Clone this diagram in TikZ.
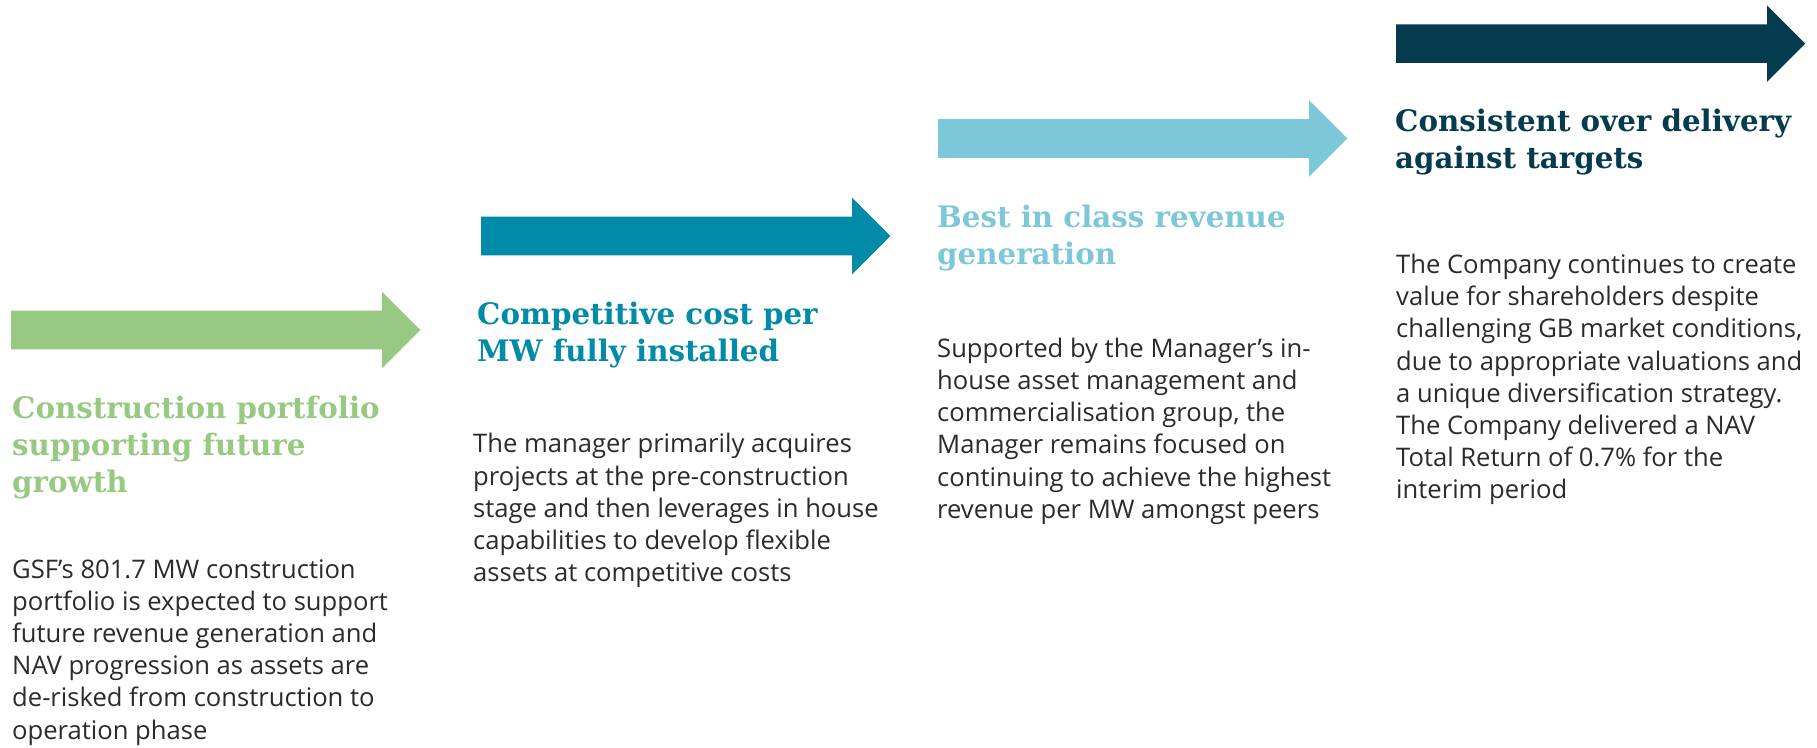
\documentclass[tikz,border=0pt]{standalone}
\usepackage{fontspec}
\setmainfont{Open Sans}
\newfontfamily\headfont[FakeStretch=0.99]{DejaVu Serif}
\usetikzlibrary{positioning}
\definecolor{gsfgreen}{HTML}{98C982}
\definecolor{gsfteal}{HTML}{008BA8}
\definecolor{gsfsky}{HTML}{7DC8D8}
\definecolor{gsfnavy}{HTML}{043B4E}
\definecolor{bodygrey}{HTML}{2B2B2B}
\tikzstyle{headbox} = [anchor=base west, inner sep=0pt, align=left, font=\headfont\bfseries\fontsize{29.6}{37}\selectfont]
\tikzstyle{textbox} = [anchor=base west, inner sep=0pt, align=left, text=bodygrey, font=\fontsize{25.6}{32.2}\selectfont]

\begin{document}
\begin{tikzpicture}[x=1pt, y=-1pt] % pixel grid, y running down; nodes sit on the baseline of their last line
    \useasboundingbox (0,0) rectangle (1817,747);

    % the four stage arrows
    \fill[gsfgreen] (11,310.7) -- ++(371,0) -- ++(0,-19) -- ++(38.3,38.3) -- ++(-38.3,38.3) -- ++(0,-19) -- ++(-371,0) -- cycle;
    \fill[gsfteal] (481,216.7) -- ++(371,0) -- ++(0,-19) -- ++(38.3,38.3) -- ++(-38.3,38.3) -- ++(0,-19) -- ++(-371,0) -- cycle;
    \fill[gsfsky] (938,119.2) -- ++(371,0) -- ++(0,-19) -- ++(38.3,38.3) -- ++(-38.3,38.3) -- ++(0,-19) -- ++(-371,0) -- cycle;
    \fill[gsfnavy] (1396,24.3) -- ++(371,0) -- ++(0,-19) -- ++(38.3,38.3) -- ++(-38.3,38.3) -- ++(0,-19) -- ++(-371,0) -- cycle;

    \node (head_build) [headbox, text=gsfgreen] at (12,492) {Construction portfolio\\supporting future\\growth};
    \node (text_build) [textbox] at (12,739) {GSF’s 801.7 MW construction\\portfolio is expected to support\\future revenue generation and\\NAV progression as assets are\\de-risked from construction to\\operation phase};

    \node (head_cost) [headbox, text=gsfteal] at (477,361) {Competitive cost per\\MW fully installed};
    \node (text_cost) [textbox] at (473,581.6) {The manager primarily acquires\\projects at the pre-construction\\stage and then leverages in house\\capabilities to develop flexible\\assets at competitive costs};

    \node (head_revenue) [headbox, text=gsfsky] at (937,264.5) {Best in class revenue\\generation};
    \node (text_revenue) [textbox] at (937,518.3) {Supported by the Manager’s in-\\house asset management and\\commercialisation group, the\\Manager remains focused on\\continuing to achieve the highest\\revenue per MW amongst peers};

    \node (head_target) [headbox, text=gsfnavy] at (1395,168) {Consistent over delivery\\against targets};
    \node (text_target) [textbox] at (1396,498.8) {The Company continues to create\\value for shareholders despite\\challenging GB market conditions,\\due to appropriate valuations and\\a unique diversification strategy.\\The Company delivered a NAV\\Total Return of 0.7\% for the\\interim period};

    \end{tikzpicture}
\end{document}
